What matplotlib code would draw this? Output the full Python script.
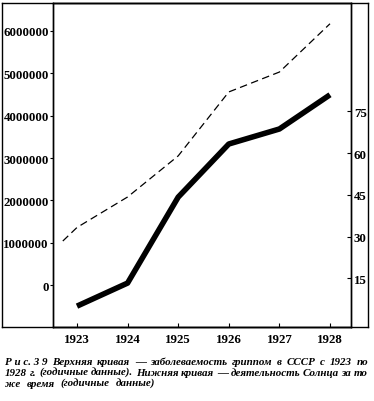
import matplotlib
matplotlib.use("Agg")
import matplotlib.pyplot as plt
from matplotlib.lines import Line2D

# data
years = [1923, 1924, 1925, 1926, 1927, 1928]
flu_years = [1922.72, 1923, 1924, 1925, 1926, 1927, 1928]
flu_cases = [1040000, 1360000, 2080000, 3050000, 4560000, 5030000, 6170000]
sun_activity = [5.0, 13.3, 44.2, 63.3, 68.7, 81.0]

left_ticks = [0, 1000000, 2000000, 3000000, 4000000, 5000000, 6000000]
right_ticks = [15, 30, 45, 60, 75]

caption = [
    ["Р и с. 3 9", "Верхняя", "кривая", "—", "заболеваемость", "гриппом", "в", "СССР", "с", "1923", "по"],
    ["1928", "г.", "(годичные", "данные).", "Нижняя", "кривая", "—", "деятельность", "Солнца", "за", "то"],
    ["же", "время", "(годичные", "данные)"],
]

W, H = 374, 402
fig = plt.figure(figsize=(W / 100, H / 100), dpi=100)

def fx(px):
    return px / W

def fy(py):
    return 1 - py / H

# axes box in pixels
ax_l, ax_r, ax_t, ax_b = 53, 351, 4, 328
ax = fig.add_axes([fx(ax_l), fy(ax_b), fx(ax_r - ax_l), (ax_b - ax_t) / H])
ax2 = ax.twinx()

ax.plot(flu_years, flu_cases, color="black", lw=0.9, linestyle=(0, (6, 3.5)))
ax2.plot(years, sun_activity, color="black", lw=4.0, solid_capstyle="butt")

ax.set_xlim(1922.526, 1928.415)
ax.set_ylim(-990000, 6660000)
ax2.set_ylim(-2.5, 114.0)

tfont = dict(family="Liberation Serif", weight="bold", size=9.3)

ax.set_xticks(years)
ax.set_xticklabels([str(y) for y in years], fontdict=tfont)
ax.tick_params(axis="x", direction="in", length=3, width=0.8, pad=4)

ax.set_yticks(left_ticks)
ax.set_yticklabels([str(v) for v in left_ticks], fontdict=tfont)
ax.tick_params(axis="y", direction="out", length=2, width=0.8, pad=1)

ax2.set_yticks(right_ticks)
ax2.set_yticklabels([str(v) for v in right_ticks], fontdict=tfont)
ax2.tick_params(axis="y", direction="in", length=3, width=0.8, pad=2)

for a in (ax, ax2):
    for s in a.spines.values():
        s.set_linewidth(1.0)

# outer frame around labels
x0, x1, y0, y1 = 2, 368, 4, 328
for xs, ys in [((x0, x1), (y0, y0)), ((x0, x1), (y1, y1)),
               ((x0, x0), (y0, y1)), ((x1, x1), (y0, y1))]:
    fig.add_artist(Line2D([fx(v) for v in xs], [fy(v) for v in ys],
                          color="black", lw=1.0))

# justified caption
cfont = dict(family="Liberation Serif", style="italic", weight="bold", size=7.9)
renderer = fig.canvas.get_renderer()
line_y = [365, 376, 387]
line_end = [368, 368, 155]
for i, words in enumerate(caption):
    texts = [fig.text(0, fy(line_y[i]), w, ha="left", va="baseline", **cfont) for w in words]
    widths = [t.get_window_extent(renderer).width for t in texts]
    gap = (line_end[i] - 5 - sum(widths)) / (len(words) - 1)
    x = 5
    for t, w in zip(texts, widths):
        t.set_x(fx(x))
        x += w + gap

fig.savefig("out.png", dpi=100)
